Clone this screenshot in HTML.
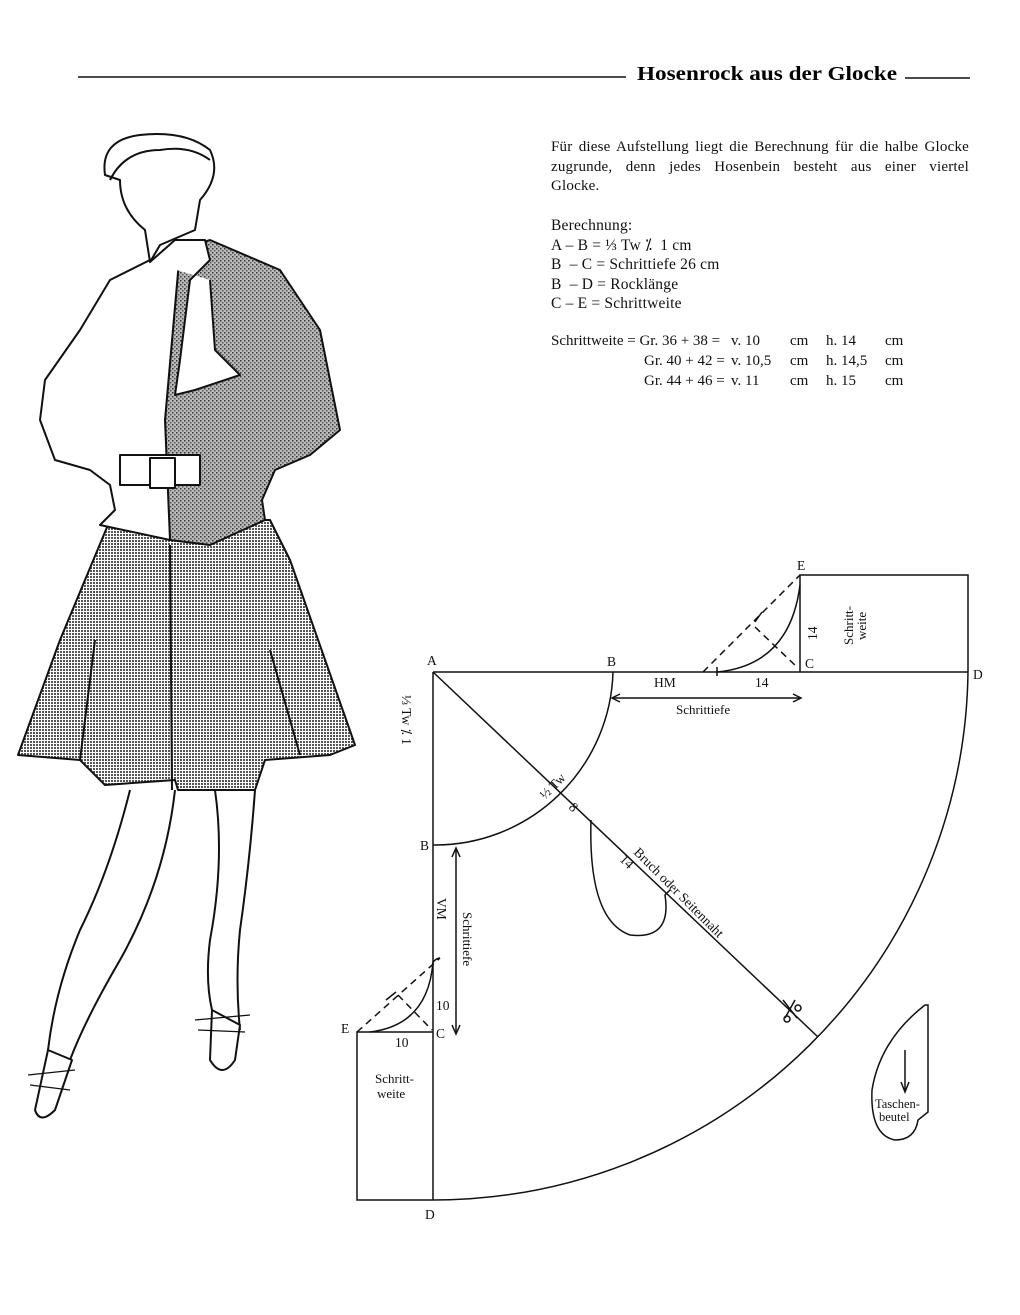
<!DOCTYPE html>
<html><head><meta charset="utf-8"><style>
html,body{margin:0;padding:0;background:#fff;}
body{width:1020px;height:1315px;position:relative;overflow:hidden;font-family:"Liberation Serif",serif;color:#111;}
.t{position:absolute;font-size:15.5px;line-height:19.5px;white-space:pre;letter-spacing:0.2px;}
.j{position:absolute;left:551px;width:418px;font-size:15px;line-height:19.5px;text-align:justify;text-align-last:justify;letter-spacing:0.2px;}
.c{position:absolute;font-size:15px;white-space:pre;}
</style></head><body>
<svg width="1020" height="1315" style="position:absolute;left:0;top:0" xmlns="http://www.w3.org/2000/svg">
<defs>
<pattern id="dots" width="3" height="3" patternUnits="userSpaceOnUse"><rect width="3" height="3" fill="#fff"/><rect width="2" height="2" fill="#555"/></pattern>
<pattern id="spk" width="4" height="4" patternUnits="userSpaceOnUse"><rect width="4" height="4" fill="#bbb"/><rect x="0" y="0" width="1.5" height="1.5" fill="#333"/><rect x="2" y="2" width="1.5" height="1.5" fill="#555"/></pattern>
</defs>
<g stroke="#111" stroke-width="1.6" fill="none">
<line x1="78" y1="77" x2="626" y2="77"/>
<line x1="905" y1="78" x2="970" y2="78"/>
</g>
<text x="637" y="80" font-family="Liberation Serif,serif" font-weight="bold" font-size="19.5" textLength="260" lengthAdjust="spacingAndGlyphs">Hosenrock aus der Glocke</text>

<g stroke="#111" stroke-width="2" stroke-linejoin="round">
<path d="M110 520 L270 520 L290 560 L355 745 L330 755 L265 760 L255 790 L178 790 L175 780 L105 785 L80 760 L18 755 L60 640 Z" fill="url(#dots)"/>
<path d="M170 545 L172 790" fill="none"/>
<path d="M95 640 L80 760 M270 650 L300 755" fill="none"/>
<path d="M180 250 L210 240 L280 270 L320 330 L340 430 L310 455 L275 470 L262 500 L265 520 L210 545 L170 540 L165 420 Z" fill="url(#spk)"/>
<path d="M180 250 L150 260 L110 280 L80 330 L45 380 L40 420 L55 460 L90 470 L110 485 L115 510 L100 525 L170 540 L165 420 Z" fill="#fff"/>
<path d="M150 262 L175 240 L205 240 L210 260 L190 280 L180 360 L175 395 L195 390 L240 375 L215 350 L210 280" fill="#fff"/>
<rect x="120" y="455" width="80" height="30" fill="#fff"/>
<rect x="150" y="458" width="25" height="30" fill="#fff"/>
<path d="M105 175 Q100 140 140 135 Q185 130 210 150 Q222 175 200 200 L195 230 L160 245 L150 262 L145 230 Q120 210 120 180 Z" fill="#fff"/>
<path d="M110 180 Q125 150 160 150 Q190 145 210 160" fill="none"/>
<path d="M130 790 Q110 870 80 930 Q55 990 48 1050 M175 790 Q165 880 120 960 Q85 1020 70 1060 M215 790 Q225 860 210 940 Q205 980 212 1010 M255 790 Q250 860 240 930 Q235 980 240 1030" fill="none"/>
<path d="M48 1050 L35 1110 Q40 1125 55 1110 L72 1060 Z" fill="#fff"/>
<path d="M212 1010 L210 1060 Q222 1080 235 1060 L240 1025 Z" fill="#fff"/>
<path d="M28 1075 L75 1070 M30 1085 L70 1090 M195 1020 L250 1015 M198 1030 L245 1032" fill="none" stroke-width="1.3"/>
</g>

<g stroke="#111" stroke-width="1.5" fill="none">
<line x1="433" y1="672" x2="968" y2="672"/>
<line x1="433" y1="672" x2="433" y2="1200"/>
<path d="M968 672 A535 535 0 0 1 433 1200"/>
<path d="M613 672 A178 178 0 0 1 433 845"/>
<line x1="433" y1="672" x2="818" y2="1037"/>
<polyline points="800,672 800,575 968,575 968,672"/>
<path d="M717 672 Q790 665 800 585"/>
<line x1="703" y1="672" x2="800" y2="575" stroke-dasharray="7,5"/>
<line x1="755" y1="627" x2="798" y2="668" stroke-dasharray="7,5"/>
<line x1="755" y1="622" x2="762" y2="612"/>
<line x1="717" y1="667" x2="717" y2="676"/>
<line x1="613" y1="698" x2="800" y2="698"/>
<path d="M620 694 L612 698 L620 702 M793 694 L801 698 L793 702"/>
<polyline points="433,1032 357,1032 357,1200 433,1200"/>
<path d="M370 1032 Q428 1025 433 962 Q437 958 440 958"/>
<line x1="357" y1="1032" x2="440" y2="958" stroke-dasharray="7,5"/>
<line x1="398" y1="995" x2="432" y2="1030" stroke-dasharray="7,5"/>
<line x1="386" y1="1000" x2="396" y2="992"/>
<line x1="456" y1="850" x2="456" y2="1033"/>
<path d="M452 857 L456 848 L460 857 M452 1025 L456 1034 L460 1025"/>
<path d="M591 820 Q588 920 630 935 Q672 940 665 895 L670 890"/>
<path d="M783 1000 L797 1018 M795 1000 L785 1018"/><circle cx="787" cy="1019" r="3"/><circle cx="798" cy="1008" r="3"/>
<path d="M925 1005 Q880 1040 872 1090 Q870 1135 895 1140 Q915 1140 918 1120 L928 1112 L928 1005 Z"/>
<line x1="905" y1="1050" x2="905" y2="1090"/><path d="M901 1082 L905 1092 L909 1082"/>
</g>
<g font-family="Liberation Serif,serif" font-size="13.5" fill="#111">
<text x="427" y="665">A</text>
<text x="607" y="666">B</text>
<text x="973" y="679">D</text>
<text x="797" y="570">E</text>
<text x="805" y="668">C</text>
<text x="654" y="687">HM</text>
<text x="755" y="687">14</text>
<text x="676" y="714" font-size="13">Schrittiefe</text>
<text x="420" y="850">B</text>
<text x="425" y="1219">D</text>
<text x="341" y="1033">E</text>
<text x="436" y="1038">C</text>
<text x="395" y="1047">10</text>
<text x="436" y="1010">10</text>
<text x="375" y="1083" font-size="13">Schritt-</text>
<text x="377" y="1098" font-size="13">weite</text>
<text x="875" y="1108" font-size="12.5">Taschen-</text>
<text x="879" y="1121" font-size="12.5">beutel</text>
<text transform="translate(817,640) rotate(-90)" font-size="13.5">14</text>
<text transform="translate(853,645) rotate(-90)" font-size="13">Schritt-</text>
<text transform="translate(866,640) rotate(-90)" font-size="13">weite</text>
<text transform="translate(402,695) rotate(90)" font-size="13.5">⅓ Tw ⁒ 1</text>
<text transform="translate(437,898) rotate(90)" font-size="13.5">VM</text>
<text transform="translate(463,912) rotate(90)" font-size="13">Schrittiefe</text>
<text transform="translate(545,800) rotate(-45)" font-size="13.5">½ Tw</text>
<text transform="translate(568,808) rotate(45)" font-size="13.5">8</text>
<text transform="translate(619,860) rotate(45)" font-size="13.5">14</text>
<text transform="translate(633,853) rotate(45)" font-size="13.5">Bruch oder Seitennaht</text>
</g>
</svg>
<div class="j" style="top:138px;">Für diese Aufstellung liegt die Berechnung für die halbe Glocke</div>
<div class="j" style="top:158px;">zugrunde, denn jedes Hosenbein besteht aus einer viertel</div>
<div class="t" style="left:551px;top:177px;font-size:15px;">Glocke.</div>
<div class="t" style="left:551px;top:216px;">Berechnung:
A – B = ⅓ Tw ⁒  1 cm
B  – C = Schrittiefe 26 cm
B  – D = Rocklänge
C – E = Schrittweite</div>
<div class="c" style="left:551px;top:333px;">Schrittweite = Gr. 36 + 38 =</div>
<div class="c" style="left:644px;top:353px;">Gr. 40 + 42 =</div>
<div class="c" style="left:644px;top:373px;">Gr. 44 + 46 =</div>
<div class="c" style="left:731px;top:333px;">v. 10</div>
<div class="c" style="left:731px;top:353px;">v. 10,5</div>
<div class="c" style="left:731px;top:373px;">v. 11</div>
<div class="c" style="left:790px;top:333px;">cm</div>
<div class="c" style="left:790px;top:353px;">cm</div>
<div class="c" style="left:790px;top:373px;">cm</div>
<div class="c" style="left:826px;top:333px;">h. 14</div>
<div class="c" style="left:826px;top:353px;">h. 14,5</div>
<div class="c" style="left:826px;top:373px;">h. 15</div>
<div class="c" style="left:885px;top:333px;">cm</div>
<div class="c" style="left:885px;top:353px;">cm</div>
<div class="c" style="left:885px;top:373px;">cm</div>
</body></html>
